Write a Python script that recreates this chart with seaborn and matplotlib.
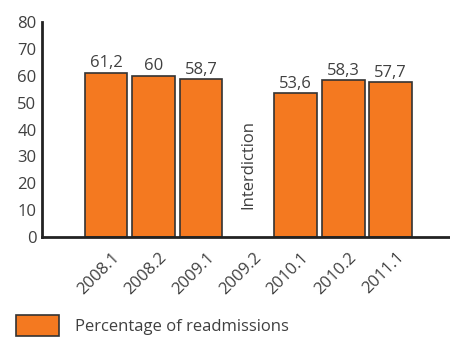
import pandas as pd
import matplotlib
matplotlib.use("Agg")
import matplotlib.pyplot as plt
import matplotlib.patches as mpatches
import matplotlib.transforms as mtransforms
import seaborn as sns

# Chart data
periods = ["2008.1", "2008.2", "2009.1", "2009.2", "2010.1", "2010.2", "2011.1"]
bar_periods = ["2008.1", "2008.2", "2009.1", "2010.1", "2010.2", "2011.1"]
readmissions = [61.2, 60.0, 58.7, 53.6, 58.3, 57.7]
value_labels = ["61,2", "60", "58,7", "53,6", "58,3", "57,7"]
y_ticks = [0, 10, 20, 30, 40, 50, 60, 70, 80]

df = pd.DataFrame({"period": bar_periods, "pct": readmissions})

sns.set_style("white")
plt.rcParams["font.family"] = ["Open Sans", "DejaVu Sans"]
text_col = "#404040"
orange = "#F47920"
fs = 12

fig = plt.figure(figsize=(4.5, 3.37), dpi=100)
ax = fig.add_axes([42 / 450, 100 / 337, 1 - 42 / 450, 215 / 337])

sns.barplot(data=df, x="period", y="pct", order=periods, color=orange,
            saturation=1, width=0.9, edgecolor="#333333", linewidth=1.2, ax=ax)

ax.bar_label(ax.containers[0], labels=value_labels, padding=1,
             fontsize=fs, color=text_col)

ax.set_ylim(0, 80)
ax.set_xlim(-1.35, 7.25)
ax.set_yticks(y_ticks)
ax.set_xlabel("")
ax.set_ylabel("")

for side in ["top", "right"]:
    ax.spines[side].set_visible(False)
for side in ["left", "bottom"]:
    ax.spines[side].set_linewidth(2)
    ax.spines[side].set_color("#222222")

ax.tick_params(axis="y", direction="in", length=7, width=2, color="#222222",
               labelsize=fs, labelcolor=text_col, pad=4)
ax.tick_params(axis="x", length=0, labelsize=fs, labelcolor=text_col, pad=9)
shift = mtransforms.ScaledTranslation(5 / 100, 0, fig.dpi_scale_trans)
for lbl in ax.get_xticklabels():
    lbl.set_rotation(45)
    lbl.set_ha("right")
    lbl.set_va("top")
    lbl.set_rotation_mode("anchor")
    lbl.set_transform(lbl.get_transform() + shift)

ax.text(3, 27, "Interdiction", rotation=90, ha="center", va="center",
        fontsize=fs, color=text_col)

handle = mpatches.Patch(facecolor=orange, edgecolor="#333333", linewidth=1.2,
                        label="Percentage of readmissions")
fig.legend(handles=[handle], loc="upper left",
           bbox_to_anchor=(16 / 450, 1 - 315 / 337), frameon=False,
           borderpad=0, borderaxespad=0, handlelength=2.6, handleheight=1.6,
           handletextpad=0.95, fontsize=fs, labelcolor=text_col)

fig.savefig("out.png", dpi=100)
